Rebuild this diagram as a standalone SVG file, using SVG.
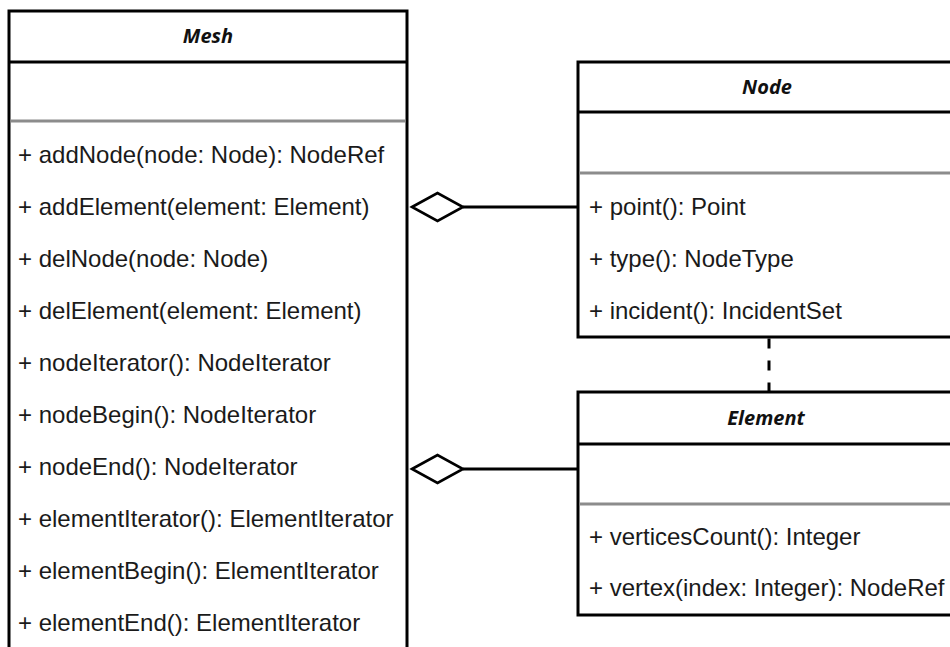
<svg xmlns="http://www.w3.org/2000/svg" width="950" height="647" viewBox="0 0 950 647">
  <style>
    .box { fill: #ffffff; stroke: #000000; stroke-width: 3; }
    .sep { stroke: #000000; stroke-width: 3; }
    .grey { stroke: #8c8c8c; stroke-width: 3; }
    .title { font-family: "Open Sans", "DejaVu Sans", sans-serif; font-size: 20px; font-weight: bold; font-style: italic; fill: #111111; text-anchor: middle; }
    .op { font-family: "Liberation Sans", Arial, sans-serif; font-size: 24px; fill: #1a1a1a; }
    .edge { fill: none; stroke: #000000; stroke-width: 3; }
    .agg { fill: #ffffff; stroke: #000000; stroke-width: 2.6; stroke-linejoin: miter; }
    .dep { fill: none; stroke: #000000; stroke-width: 3; stroke-dasharray: 10 12; }
  </style>
  <rect width="950" height="647" fill="#ffffff"/>

  <!-- Mesh class -->
  <g id="mesh">
    <rect class="box" x="9" y="11" width="398" height="660"/>
    <line class="sep" x1="9" y1="62" x2="407" y2="62"/>
    <line class="grey" x1="10.5" y1="121" x2="405.5" y2="121"/>
    <text class="title" x="208" y="43">Mesh</text>
    <text class="op" x="18" y="163">+ addNode(node: Node): NodeRef</text>
    <text class="op" x="18" y="215">+ addElement(element: Element)</text>
    <text class="op" x="18" y="267">+ delNode(node: Node)</text>
    <text class="op" x="18" y="319">+ delElement(element: Element)</text>
    <text class="op" x="18" y="371">+ nodeIterator(): NodeIterator</text>
    <text class="op" x="18" y="423">+ nodeBegin(): NodeIterator</text>
    <text class="op" x="18" y="475">+ nodeEnd(): NodeIterator</text>
    <text class="op" x="18" y="527">+ elementIterator(): ElementIterator</text>
    <text class="op" x="18" y="579">+ elementBegin(): ElementIterator</text>
    <text class="op" x="18" y="631">+ elementEnd(): ElementIterator</text>
  </g>

  <!-- Node class -->
  <g id="node">
    <rect class="box" x="578" y="62" width="380" height="275"/>
    <line class="sep" x1="578" y1="112" x2="958" y2="112"/>
    <line class="grey" x1="579.5" y1="173" x2="958" y2="173"/>
    <text class="title" x="767" y="94">Node</text>
    <text class="op" x="589" y="215">+ point(): Point</text>
    <text class="op" x="589" y="267">+ type(): NodeType</text>
    <text class="op" x="589" y="319">+ incident(): IncidentSet</text>
  </g>

  <!-- Element class -->
  <g id="element">
    <rect class="box" x="578" y="392" width="380" height="223"/>
    <line class="sep" x1="578" y1="444" x2="958" y2="444"/>
    <line class="grey" x1="579.5" y1="504" x2="958" y2="504"/>
    <text class="title" x="766" y="425">Element</text>
    <text class="op" x="589" y="545">+ verticesCount(): Integer</text>
    <text class="op" x="589" y="596">+ vertex(index: Integer): NodeRef</text>
  </g>

  <!-- Connectors -->
  <g id="connectors">
    <!-- Mesh aggregates Node -->
    <line class="edge" x1="463" y1="207" x2="578" y2="207"/>
    <polygon class="agg" points="412,207 437.5,193 463,207 437.5,221"/>
    <!-- Mesh aggregates Element -->
    <line class="edge" x1="463" y1="469" x2="578" y2="469"/>
    <polygon class="agg" points="412,469 437.5,455 463,469 437.5,483"/>
    <!-- Element depends on Node -->
    <line class="dep" x1="769" y1="338.5" x2="769" y2="391"/>
  </g>
</svg>
